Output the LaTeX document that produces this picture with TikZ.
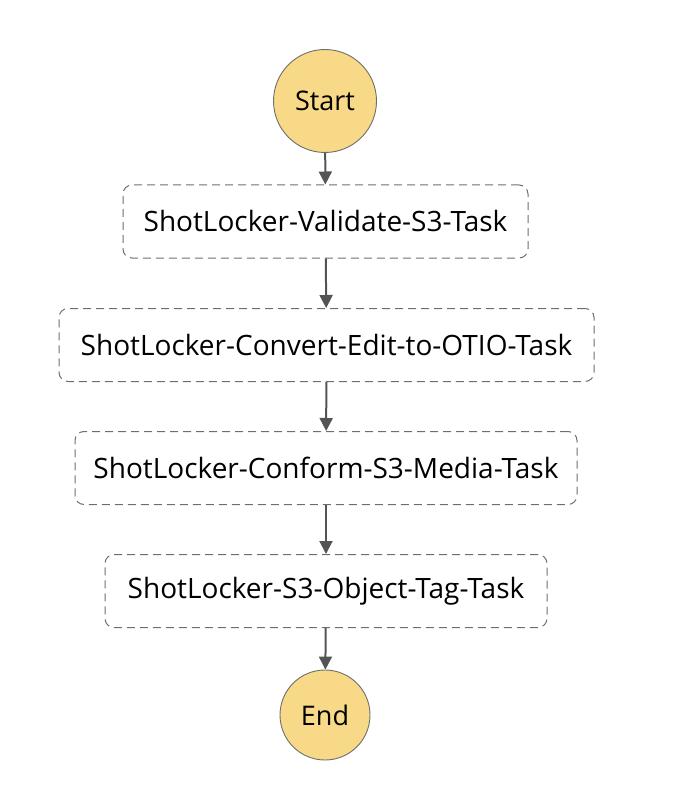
\documentclass[tikz,border=0pt]{standalone}
\usepackage{fontspec}
\setmainfont{Open Sans}
\usetikzlibrary{arrows.meta}
\definecolor{stateyellow}{HTML}{F8D987}
\definecolor{stateline}{HTML}{6E6E6E}
\definecolor{flowgray}{HTML}{545454}

\begin{document}
\begin{tikzpicture}[x=1pt,y=-1pt,
	term/.style={circle, draw=stateline, fill=stateyellow, line width=0.9pt, inner sep=0pt, font=\fontsize{27}{32}\selectfont},
	task/.style={draw=stateline, dash pattern=on 8pt off 5pt, rounded corners=9pt, line width=1pt, minimum height=73pt, font=\fontsize{28}{32}\selectfont},
	flow/.style={-{Triangle[width=13pt,length=13pt]}, draw=flowgray, line width=2pt}]
	\useasboundingbox (0,0) rectangle (678,810);
	\node[term, minimum size=103pt] (start) at (325,101) {Start};
	\node[task, minimum width=405pt] (validate) at (325.5,221.5) {ShotLocker-Validate-S3-Task};
	\node[task, minimum width=535pt] (convert) at (326.5,345) {ShotLocker-Convert-Edit-to-OTIO-Task};
	\node[task, minimum width=502pt] (conform) at (326,468) {ShotLocker-Conform-S3-Media-Task};
	\node[task, minimum width=442pt] (tag) at (326,591) {ShotLocker-S3-Object-Tag-Task};
	\node[term, minimum size=90pt] (end) at (325,715) {End};
	\draw [flow] (start) to (validate);
	\draw [flow] (validate) to (convert);
	\draw [flow] (convert) to (conform);
	\draw [flow] (conform) to (tag);
	\draw [flow] (tag) to (end);
\end{tikzpicture}
\end{document}
